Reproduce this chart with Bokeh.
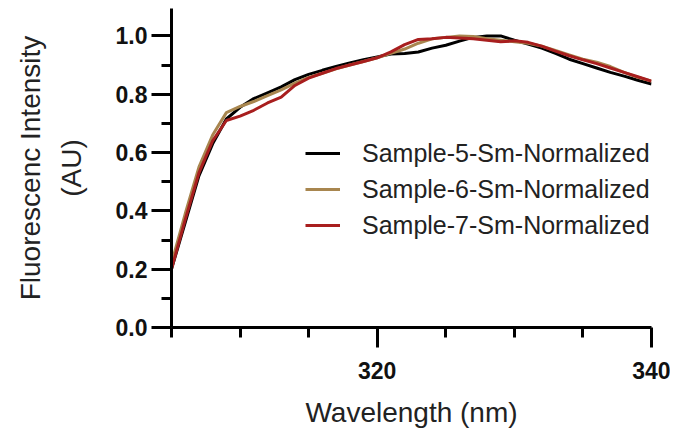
from bokeh.plotting import figure
from bokeh.models import FixedTicker, PrintfTickFormatter, Legend, LegendItem
from bokeh.embed import file_html
from bokeh.resources import INLINE

wavelength = list(range(305, 341))
sample5 = [0.20, 0.36, 0.52, 0.63, 0.715, 0.755, 0.785, 0.805, 0.825, 0.85,
           0.868, 0.882, 0.895, 0.907, 0.918, 0.928, 0.938, 0.94, 0.945, 0.958,
           0.968, 0.982, 0.995, 1.0, 1.0, 0.985, 0.972, 0.958, 0.94, 0.92,
           0.905, 0.89, 0.875, 0.862, 0.848, 0.835]
sample6 = [0.22, 0.39, 0.55, 0.66, 0.737, 0.758, 0.775, 0.795, 0.815, 0.838,
           0.858, 0.872, 0.887, 0.90, 0.912, 0.925, 0.94, 0.955, 0.975, 0.99,
           0.995, 1.0, 0.998, 0.99, 0.985, 0.98, 0.975, 0.965, 0.95, 0.935,
           0.92, 0.91, 0.895, 0.875, 0.858, 0.845]
sample7 = [0.20, 0.37, 0.53, 0.64, 0.71, 0.725, 0.745, 0.77, 0.79, 0.83,
           0.855, 0.872, 0.888, 0.90, 0.912, 0.925, 0.945, 0.97, 0.988, 0.99,
           0.995, 0.993, 0.99, 0.985, 0.98, 0.983, 0.978, 0.965, 0.948, 0.932,
           0.918, 0.905, 0.89, 0.875, 0.86, 0.845]
series_names = ["Sample-5-Sm-Normalized", "Sample-6-Sm-Normalized", "Sample-7-Sm-Normalized"]
colors = ["#000000", "#A8864F", "#A81E1E"]
x_major = [320, 340]
x_minor = [305, 310, 315, 325, 330, 335]
y_major = [0.0, 0.2, 0.4, 0.6, 0.8, 1.0]
y_minor = [0.1, 0.3, 0.5, 0.7, 0.9]

FONT = "Liberation Sans"

p = figure(width=670, height=440, x_range=(305, 340), y_range=(0, 1.094),
           output_backend="svg", toolbar_location=None,
           min_border_left=171, min_border_right=19, min_border_top=8,
           min_border_bottom=113)
p.outline_line_color = None
p.xgrid.visible = False
p.ygrid.visible = False
p.background_fill_color = "white"

renderers = []
for ys, c in zip([sample5, sample6, sample7], colors):
    r = p.line(wavelength, ys, line_color=c, line_width=3)
    renderers.append(r)

for ax in (p.xaxis[0], p.yaxis[0]):
    ax.axis_line_width = 3
    ax.axis_line_color = "black"
    ax.major_tick_line_width = 3
    ax.minor_tick_line_width = 3
    ax.major_tick_line_color = "black"
    ax.minor_tick_line_color = "black"
    ax.major_tick_out = 20
    ax.major_tick_in = 0
    ax.minor_tick_out = 10
    ax.minor_tick_in = 0
    ax.major_label_text_font = FONT
    ax.major_label_text_font_style = "bold"
    ax.major_label_text_font_size = "23px"
    ax.major_label_text_color = "#111111"
    ax.axis_label_text_font = FONT
    ax.axis_label_text_font_style = "normal"
    ax.axis_label_text_font_size = "28px"
    ax.axis_label_text_color = "#222222"

p.xaxis.ticker = FixedTicker(ticks=x_major, minor_ticks=x_minor)
p.yaxis.ticker = FixedTicker(ticks=y_major, minor_ticks=y_minor)
p.yaxis.formatter = PrintfTickFormatter(format="%.1f")
p.xaxis.formatter = PrintfTickFormatter(format="%d")
p.xaxis.major_label_standoff = 14
p.yaxis.major_label_standoff = 4
p.xaxis.axis_label = "Wavelength (nm)"
p.yaxis.axis_label = "Fluorescenc Intensity\n(AU)"
p.yaxis.axis_label_text_line_height = 1.3
p.xaxis.axis_label_standoff = 15
p.yaxis.axis_label_standoff = 26

legend = Legend(items=[LegendItem(label=n, renderers=[r]) for n, r in zip(series_names, renderers)],
                location=(134, 87))
legend.border_line_alpha = 0
legend.background_fill_alpha = 0
legend.padding = 0
legend.margin = 0
legend.spacing = 6
legend.glyph_width = 35
legend.glyph_height = 30
legend.label_height = 30
legend.label_standoff = 22
legend.label_text_font = FONT
legend.label_text_font_size = "25px"
legend.label_text_color = "#222222"
p.add_layout(legend, "center")

open("out.html", "w").write(file_html(p, INLINE))
